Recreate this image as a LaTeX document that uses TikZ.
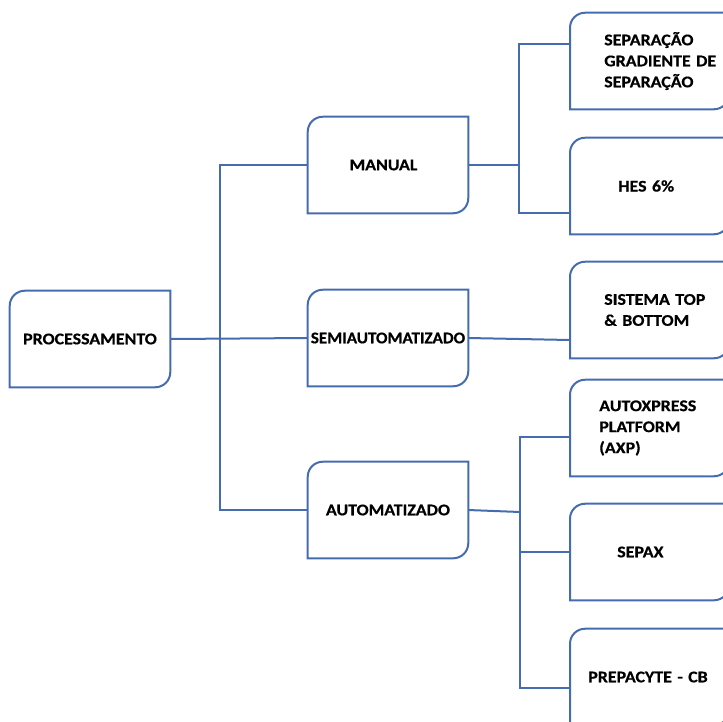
\documentclass[tikz,border=0pt]{standalone}
\usepackage{fontspec}
\newfontfamily\boxfont{Carlito}[FakeStretch=1.1,BoldFeatures={FakeBold=0.6}]
\definecolor{lineblue}{RGB}{70,108,176}
\newcommand\dbox[1]{\draw[boxline] ([yshift=-11.25pt]#1.north west) arc[start angle=180,end angle=90,radius=11.25pt] -- (#1.north east) -- ([yshift=11.25pt]#1.south east) arc[start angle=0,end angle=-90,radius=11.25pt] -- (#1.south west) -- cycle;}
\newcommand\sidedbox[1]{\draw[boxline] ([yshift=-11.25pt]#1.north west) arc[start angle=180,end angle=90,radius=11.25pt] -- ([xshift=119.25pt]#1.north west) -- ([xshift=119.25pt,yshift=11.25pt]#1.south west) arc[start angle=0,end angle=-90,radius=11.25pt] -- (#1.south west) -- cycle;}
\begin{document}
\begin{tikzpicture}[x=0.75pt,y=-0.75pt,
  boxline/.style={draw=lineblue,line width=1.5pt},
  conn/.style={draw=lineblue,line width=1.5pt},
  mainbox/.style={minimum width=120pt,minimum height=72pt,inner sep=0pt,align=center,
    font=\boxfont\bfseries\fontsize{12.2}{15.75}\selectfont},
  sidebox/.style={anchor=west,minimum height=72pt,inner ysep=0pt,inner xsep=#1*0.75pt,text width=110pt,align=left,
    font=\boxfont\bfseries\fontsize{12.2}{15.75}\selectfont}]
\useasboundingbox (0,0) rectangle (723,721);
% main boxes
\node[mainbox] (proc) at (90,339) {PROCESSAMENTO};
\node[mainbox] (manual) at (388,165) {MANUAL\hspace*{6.75pt}};
\node[mainbox] (semi) at (388,338) {\addfontfeature{FakeStretch=1.05}SEMIAUTOMATIZADO};
\node[mainbox] (auto) at (388,510) {AUTOMATIZADO};
% side boxes
\node[sidebox=34] (sep) at (570,61) {SEPARAÇÃO\\GRADIENTE DE\\SEPARAÇÃO};
\node[sidebox=48] (hes) at (570,186) {HES 6\%};
\node[sidebox=34] (sis) at (570,310) {SISTEMA TOP\\\& BOTTOM};
\node[sidebox=29] (axp) at (570,428) {AUTOXPRESS\\PLATFORM\\(AXP)};
\node[sidebox=47] (sepax) at (570,552) {SEPAX};
\node[sidebox=18] (pre) at (570,677) {PREPACYTE - CB};
\foreach \n in {proc,manual,semi,auto} {\dbox{\n}}
\foreach \n in {sep,hes,sis,axp,sepax,pre} {\sidedbox{\n}}
% junctions
\coordinate (j1) at (220,339);
\coordinate (j2) at (519,165);
\coordinate (j3) at (520,512);
% connectors
\draw[conn] (proc.east) -- (semi.west);
\draw[conn] (manual.west) -| (j1 |- auto.west) -- (auto.west);
\draw[conn] (manual.east) -- (j2);
\draw[conn] ([yshift=12.75pt]sep.west) -| (j2) |- ([yshift=-20.25pt]hes.west);
\draw[conn] (semi.east) -- ([yshift=-22.5pt]sis.west);
\draw[conn] (auto.east) -- (j3);
\draw[conn] ([yshift=-6.75pt]axp.west) -| (j3) |- ([yshift=-8.25pt]pre.west);
\draw[conn] (j3 |- sepax.west) -- (sepax.west);
\end{tikzpicture}
\end{document}
